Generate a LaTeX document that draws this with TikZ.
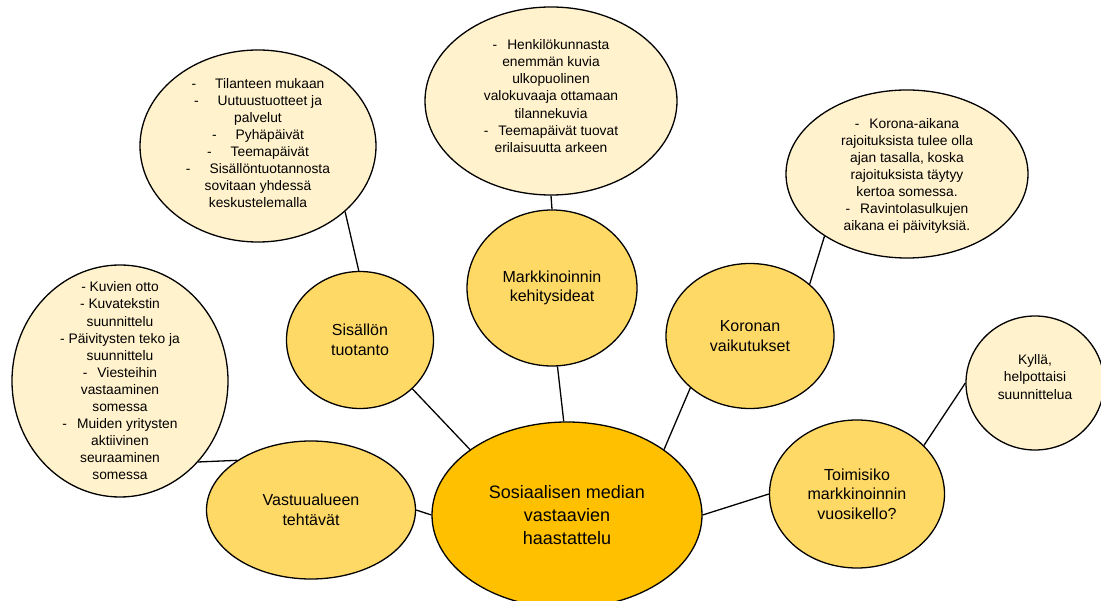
\documentclass[tikz,border=0pt]{standalone}
\usepackage{fontspec}
\setmainfont{Liberation Sans}
\usepackage{tikz}
\usetikzlibrary{shapes.geometric,positioning}
\definecolor{hub}{HTML}{FFC000}
\definecolor{sub}{HTML}{FFD966}
\definecolor{leaf}{HTML}{FFF2CC}
\newcommand{\da}{-\hspace{19pt}}
\newcommand{\db}{-\hspace{10pt}}

\begin{document}
\begin{tikzpicture}[x=1pt,y=-1pt,line width=1.3pt]
\tikzstyle{H}=[ellipse,draw,fill=hub,inner sep=0pt,minimum width=270pt,minimum height=186pt,align=center,font=\fontsize{18}{23}\selectfont]
\tikzstyle{S}=[ellipse,draw,fill=sub,inner sep=0pt,align=center,font=\fontsize{16}{19.5}\selectfont]
\tikzstyle{T}=[ellipse,draw,fill=leaf,inner sep=0pt]
\tikzstyle{TT}=[align=center,inner sep=0pt,font=\fontsize{13.8}{17.1}\selectfont]
\useasboundingbox (0,0) rectangle (1101,601);
\clip (0,0) rectangle (1101,601);
% hub
\node[H] (c0) at (567,515) {Sosiaalisen median\\vastaavien\\haastattelu};
% themes
\node[S,minimum width=147pt,minimum height=137pt] (s1) at (360,340) {Sisällön\\tuotanto};
\node[S,minimum width=170pt,minimum height=156pt] (s2) at (552,288) {Markkinoinnin\\kehitysideat};
\node[S,minimum width=168pt,minimum height=145pt] (s3) at (750,336) {Koronan\\vaikutukset};
\node[S,minimum width=175pt,minimum height=148pt] (s4) at (857,494) {Toimisiko\\markkinoinnin\\vuosikello?};
\node[S,minimum width=209pt,minimum height=138pt] (s5) at (311,510) {Vastuualueen\\tehtävät};
% answers
\node[T,minimum width=236pt,minimum height=192pt,label={[TT,yshift=3pt]center:{\da Tilanteen mukaan\\\da Uutuustuotteet ja\\palvelut\\\da Pyhäpäivät\\\da Teemapäivät\\\da Sisällöntuotannosta\\sovitaan yhdessä\\keskustelemalla}}] (t1) at (258,146) {};
\node[T,minimum width=252pt,minimum height=188pt,label={[TT,yshift=5pt]center:{\db Henkilökunnasta\\enemmän kuvia\\ulkopuolinen\\valokuvaaja ottamaan\\tilannekuvia\\\db Teemapäivät tuovat\\erilaisuutta arkeen}}] (t2) at (551,101) {};
\node[T,minimum width=242pt,minimum height=168pt,label={[TT,yshift=-2pt]center:{\db Korona-aikana\\rajoituksista tulee olla\\ajan tasalla, koska\\rajoituksista täytyy\\kertoa somessa.\\\db Ravintolasulkujen\\aikana ei päivityksiä.}}] (t3) at (907,174) {};
\node[T,minimum width=138pt,minimum height=134pt,label={[TT,yshift=6pt]center:{Kyllä,\\helpottaisi\\suunnittelua}}] (t4) at (1035,383) {};
\node[T,minimum width=216pt,minimum height=232pt,label={[TT]center:{- Kuvien otto\\- Kuvatekstin\\suunnittelu\\- Päivitysten teko ja\\suunnittelu\\\db Viesteihin\\vastaaminen\\somessa\\\db Muiden yritysten\\aktiivinen\\seuraaminen\\somessa}}] (t5) at (120,381) {};
% links
\draw (c0.146) -- (s1.-43); \draw (c0.92) -- (s2.-86); \draw (c0.34) -- (s3.221);
\draw (c0.0) -- (s4.180); \draw (c0.180) -- (s5.0);
\draw (s1.91) -- (t1.-37); \draw (s2.90) -- (t2.-90); \draw (s3.41) -- (t3.217);
\draw (s4.36) -- (t4.180); \draw (s5.146) -- (t5.-46);
\end{tikzpicture}
\end{document}
